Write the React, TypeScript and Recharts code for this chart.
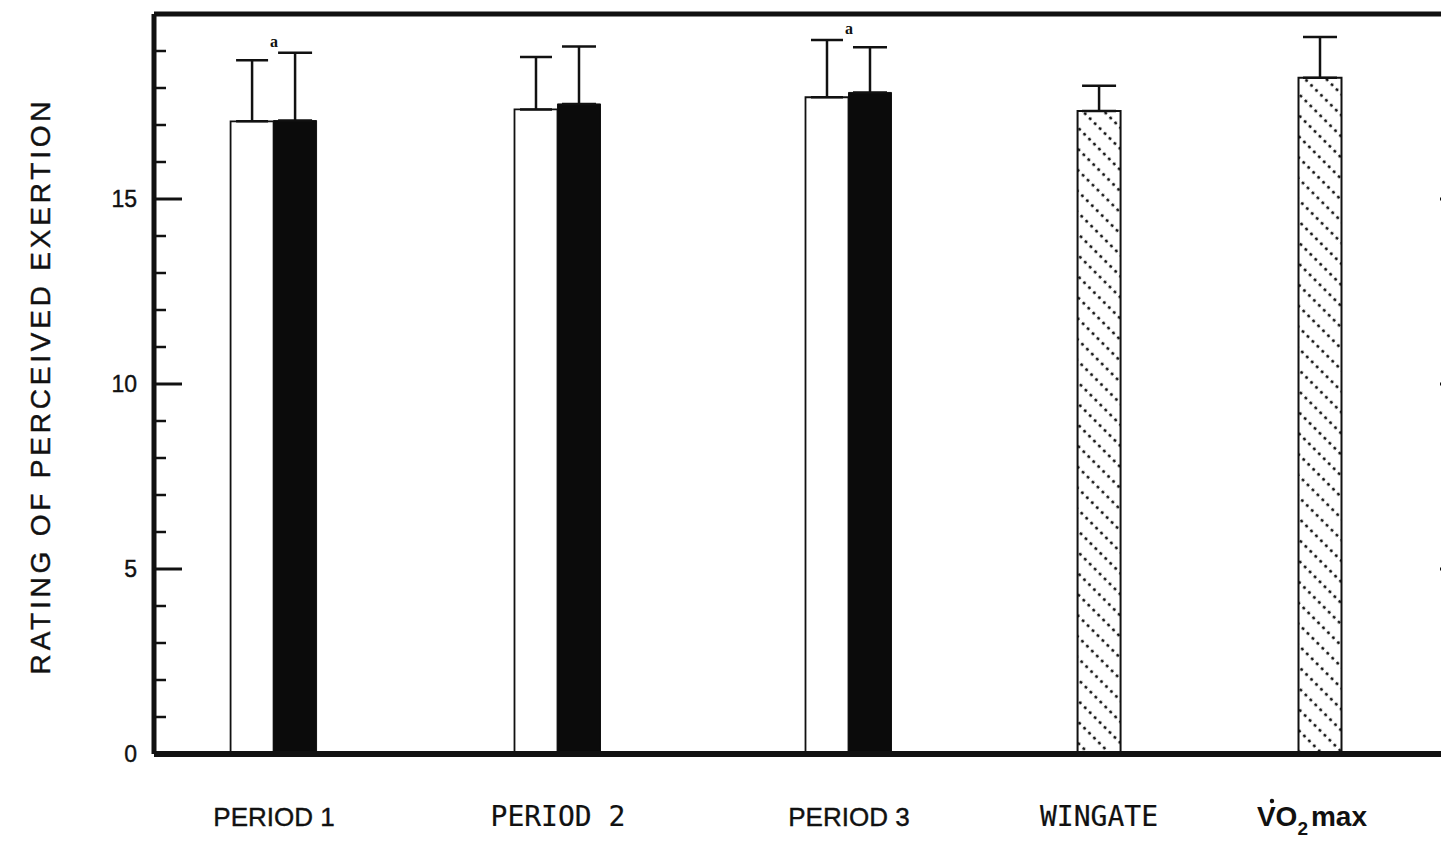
import React from 'react';
import {
  ComposedChart,
  Bar,
  XAxis,
  YAxis,
  ErrorBar,
  ReferenceLine,
  Scatter,
} from 'recharts';

// Exercise conditions along the x axis
const categories = ['PERIOD 1', 'PERIOD 2', 'PERIOD 3', 'WINGATE', 'VO2max'];
// Where each condition sits on the 0–100 horizontal scale
const categorySlots = [9.15, 30.79, 52.97, 72.03, 88.87];

// Open bars (first trial) – mean and SD
const openMean = [17.1, 17.42, 17.75, null, null];
const openSd = [1.65, 1.42, 1.55, null, null];
// Filled bars (second trial) – mean and SD
const filledMean = [17.12, 17.57, 17.88, null, null];
const filledSd = [1.83, 1.55, 1.22, null, null];
// Dotted bars (maximal tests) – mean and SD
const maxTestMean = [null, null, null, 17.38, 18.28];
const maxTestSd = [null, null, null, 0.68, 1.1];
// Significance markers above each group
const markers = ['a', '', 'a', '', ''];

const yTicks = [0, 1, 2, 3, 4, 5, 6, 7, 8, 9, 10, 11, 12, 13, 14, 15, 16, 17, 18, 19, 20];
const yTickLabels = [0, 5, 10, 15];

const rows = categories.map((name, i) => ({
  name,
  slot: categorySlots[i],
  open: openMean[i],
  openErr: openSd[i] == null ? null : [0, openSd[i]],
  filled: filledMean[i],
  filledErr: filledSd[i] == null ? null : [0, filledSd[i]],
  maxTest: maxTestMean[i],
  maxTestErr: maxTestSd[i] == null ? null : [0, maxTestSd[i]],
}));

const markerRows = categories
  .map((name, i) => {
    const tops = [
      openMean[i] != null ? (openMean[i] as number) + (openSd[i] as number) : 0,
      filledMean[i] != null ? (filledMean[i] as number) + (filledSd[i] as number) : 0,
    ];
    return { name, slot: categorySlots[i], markY: Math.max(...tops), mark: markers[i] };
  })
  .filter((r) => r.mark !== '');

const INK = '#111';
const SANS = '"Liberation Sans", Arial, Helvetica, sans-serif';
const MONO = '"DejaVu Sans Mono", monospace';

function LeftTick(props: any) {
  const { x, y, payload } = props;
  const v = payload.value as number;
  const major = v % 5 === 0;
  const len = major ? 28 : 12;
  return (
    <g>
      {v > 0 && v < 20 && (
        <line x1={x} x2={x + len} y1={y} y2={y} stroke={INK} strokeWidth={major ? 3 : 2.5} />
      )}
      {yTickLabels.includes(v) && (
        <text
          x={x - 17}
          y={y}
          textAnchor="end"
          dominantBaseline="central"
          fontFamily={SANS}
          fontSize={23}
          fill={INK}
          stroke={INK}
          strokeWidth={0.4}
        >
          {v}
        </text>
      )}
    </g>
  );
}

function RightTick(props: any) {
  const { x, y, payload } = props;
  const v = payload.value as number;
  const major = v % 5 === 0;
  const len = major ? 26 : 19;
  if (v <= 0 || v >= 20) return <g />;
  return <line x1={x} x2={x - len} y1={y} y2={y} stroke={INK} strokeWidth={major ? 3 : 1.5} />;
}

function CategoryTick(props: any) {
  const { x, y, payload } = props;
  const idx = categorySlots.indexOf(payload.value);
  const label = categories[idx];
  const base = y + 72;
  if (label === 'VO2max') {
    return (
      <g>
        <circle cx={x - 48} cy={base - 25} r={2.2} fill={INK} />
        <text x={x - 8} y={base} textAnchor="middle" fontFamily={SANS} fontWeight={700} fontSize={28} fill={INK}>
          VO
          <tspan fontSize={19} dy={9}>2</tspan>
          <tspan dy={-9} dx={3}>max</tspan>
        </text>
      </g>
    );
  }
  const mono = label === 'PERIOD 2' || label === 'WINGATE';
  return (
    <text
      x={x}
      y={base}
      textAnchor="middle"
      fontFamily={mono ? MONO : SANS}
      fontSize={mono ? 28 : 26}
      fill={INK}
      stroke={INK}
      strokeWidth={mono ? 0.2 : 0.4}
    >
      {label}
    </text>
  );
}

function MarkerShape(props: any) {
  const { cx, cy, payload } = props;
  return (
    <text
      x={cx}
      y={cy - 6}
      textAnchor="middle"
      fontFamily='"Liberation Serif", "Times New Roman", serif'
      fontWeight={700}
      fontSize={16}
      fill={INK}
    >
      {payload.mark}
    </text>
  );
}

function AxisTitle(props: any) {
  const { viewBox } = props;
  const cy = viewBox.y + viewBox.height / 2 + 2;
  const cx = 32;
  return (
    <text
      x={cx}
      y={cy}
      transform={`rotate(-90 ${cx} ${cy})`}
      textAnchor="middle"
      dominantBaseline="central"
      fontFamily={SANS}
      fontSize={28}
      letterSpacing={3.8}
      fill={INK}
      stroke={INK}
      strokeWidth={0.4}
    >
      RATING OF PERCEIVED EXERTION
    </text>
  );
}

export default function App() {
  return (
    <div style={{ width: 1441, height: 831, overflow: 'hidden', background: '#fff' }}>
      <svg width={0} height={0} style={{ position: 'absolute' }}>
        <defs>
          <pattern
            id="dotStripes"
            patternUnits="userSpaceOnUse"
            width={7}
            height={15}
            patternTransform="rotate(45)"
          >
            <rect x={0} y={0} width={7} height={15} fill="#fff" />
            <circle cx={3.5} cy={3} r={1.6} fill={INK} />
          </pattern>
        </defs>
      </svg>
      {/* the frame's right side runs just past the visible edge */}
      <ComposedChart
        width={1441}
        height={831}
        data={rows}
        margin={{ top: 6, right: -33, bottom: 0, left: 0 }}
        barGap={0}
        style={{ overflow: 'hidden' }}
      >
        <XAxis
          xAxisId="groups"
          type="number"
          dataKey="slot"
          domain={[0, 100]}
          ticks={categorySlots}
          interval={0}
          tick={<CategoryTick />}
          tickLine={false}
          tickSize={0}
          tickMargin={0}
          height={85}
          axisLine={{ stroke: INK, strokeWidth: 6 }}
          allowDataOverflow
        />
        <XAxis
          xAxisId="single"
          type="number"
          dataKey="slot"
          domain={[0, 100]}
          hide
          allowDataOverflow
        />
        <YAxis
          yAxisId="left"
          type="number"
          domain={[0, 20]}
          ticks={yTicks}
          interval={0}
          width={146}
          tick={<LeftTick />}
          tickLine={false}
          tickSize={0}
          tickMargin={0}
          axisLine={{ stroke: INK, strokeWidth: 5 }}
          label={<AxisTitle />}
          allowDataOverflow
        />
        <YAxis
          yAxisId="right"
          orientation="right"
          type="number"
          domain={[0, 20]}
          ticks={yTicks}
          interval={0}
          width={16}
          tick={<RightTick />}
          tickLine={false}
          tickSize={0}
          tickMargin={0}
          axisLine={{ stroke: INK, strokeWidth: 5 }}
          allowDataOverflow
        />
        <ReferenceLine
          yAxisId="right"
          xAxisId="groups"
          y={20}
          stroke={INK}
          strokeWidth={5}
          ifOverflow="visible"
        />
        <Bar
          xAxisId="groups"
          yAxisId="left"
          dataKey="open"
          barSize={43}
          fill="#fff"
          stroke={INK}
          strokeWidth={1.8}
          isAnimationActive={false}
        >
          <ErrorBar dataKey="openErr" width={16} stroke={INK} strokeWidth={2.5} direction="y" />
        </Bar>
        <Bar
          xAxisId="groups"
          yAxisId="left"
          dataKey="filled"
          barSize={43}
          fill="#0b0b0b"
          stroke={INK}
          strokeWidth={1}
          isAnimationActive={false}
        >
          <ErrorBar dataKey="filledErr" width={17} stroke={INK} strokeWidth={2.5} direction="y" />
        </Bar>
        <Bar
          xAxisId="single"
          yAxisId="left"
          dataKey="maxTest"
          barSize={43}
          fill="url(#dotStripes)"
          stroke={INK}
          strokeWidth={2}
          isAnimationActive={false}
        >
          <ErrorBar dataKey="maxTestErr" width={17} stroke={INK} strokeWidth={2.5} direction="y" />
        </Bar>
        <Scatter
          xAxisId="groups"
          yAxisId="left"
          data={markerRows}
          dataKey="markY"
          shape={<MarkerShape />}
          isAnimationActive={false}
        />
      </ComposedChart>
    </div>
  );
}
